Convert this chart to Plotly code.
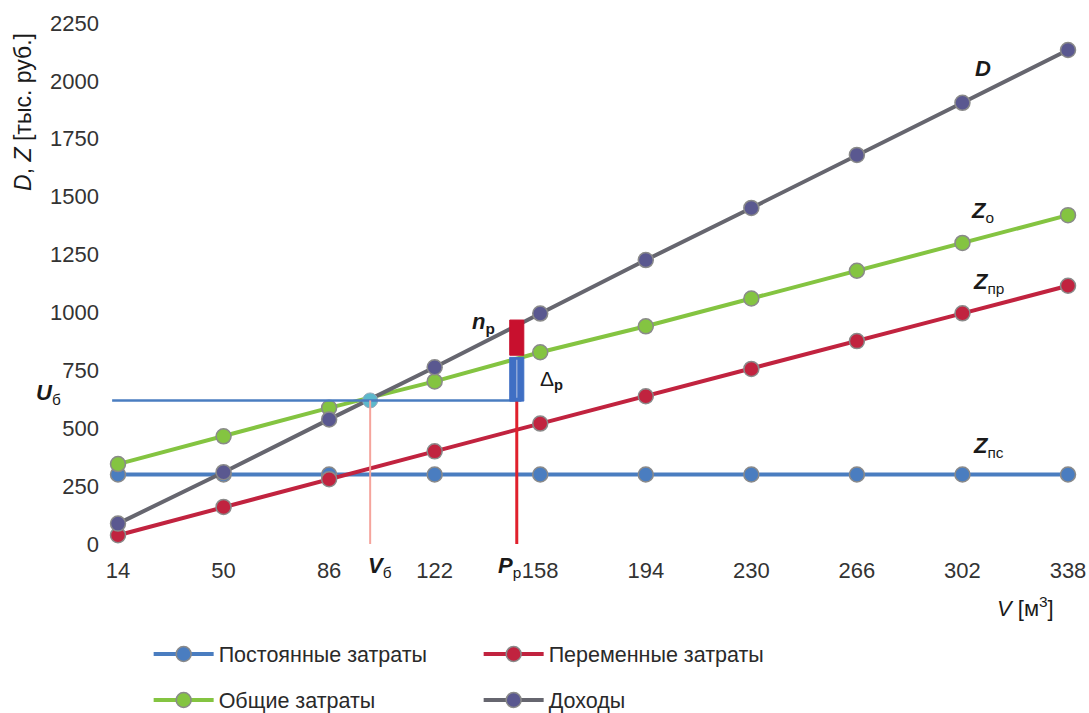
import plotly.graph_objects as go

# ---- data ----
volume = [14, 50, 86, 122, 158, 194, 230, 266, 302, 338]
fixed_costs = [300, 300, 300, 300, 300, 300, 300, 300, 300, 300]
variable_costs = [38, 160, 280, 400, 520, 638, 756, 876, 996, 1115]
total_costs = [345, 465, 588, 702, 828, 940, 1060, 1180, 1300, 1420]
income = [88, 310, 538, 763, 995, 1226, 1451, 1680, 1905, 2133]

series_names = ["Постоянные затраты", "Переменные затраты", "Общие затраты", "Доходы"]
y_ticks = [0, 250, 500, 750, 1000, 1250, 1500, 1750, 2000, 2250]

# break-even point and planned volume
V_b = 100          # break-even volume
U_b = 620          # break-even revenue
P_p = 150          # planned volume
profit_range = [815, 967]     # n_p bar
margin_range = [617, 806]     # Δ_p bar

FONT = "Liberation Sans, Arial, sans-serif"
C_BLUE = "#4a7dc0"
C_RED = "#c1233f"
C_GREEN = "#84c441"
C_DARK = "#66666f"
C_DARK_M = "#5a5890"
C_EDGE = "#8a8a8a"

fig = go.Figure()

def add_series(y, name, line_color, marker_color, legend):
    fig.add_trace(go.Scatter(
        x=volume, y=y, name=name, mode="lines+markers",
        line=dict(color=line_color, width=4),
        marker=dict(size=15, color=marker_color, line=dict(color=C_EDGE, width=1.5)),
        legend=legend,
    ))

add_series(fixed_costs, series_names[0], C_BLUE, C_BLUE, "legend")
add_series(variable_costs, series_names[1], C_RED, C_RED, "legend")
add_series(total_costs, series_names[2], C_GREEN, C_GREEN, "legend2")
add_series(income, series_names[3], C_DARK, C_DARK_M, "legend2")

# reference lines
shapes = [
    dict(type="line", xref="x", yref="y", x0=12, x1=P_p + 1.6, y0=U_b, y1=U_b,
         line=dict(color=C_BLUE, width=2.5)),
    dict(type="line", xref="x", yref="y", x0=V_b, x1=V_b, y0=0, y1=U_b,
         line=dict(color="#f5a49c", width=2)),
    dict(type="line", xref="x", yref="y", x0=P_p, x1=P_p, y0=0, y1=U_b,
         line=dict(color="#e0202c", width=3)),
    dict(type="rect", xref="x", yref="y", x0=P_p - 2.4, x1=P_p + 2.4,
         y0=margin_range[0], y1=margin_range[1],
         fillcolor="#3f6fc4", line=dict(color="#3f6fc4", width=1)),
    dict(type="line", xref="x", yref="y", x0=P_p, x1=P_p,
         y0=margin_range[0] + 15, y1=margin_range[1] - 10,
         line=dict(color="#8fa8d8", width=1.5)),
    dict(type="rect", xref="x", yref="y", x0=P_p - 2.4, x1=P_p + 2.4,
         y0=profit_range[0], y1=profit_range[1],
         fillcolor="#c8102e", line=dict(color="#c8102e", width=1)),
]
fig.update_layout(shapes=shapes)

# break-even marker
fig.add_trace(go.Scatter(
    x=[V_b], y=[U_b], mode="markers", showlegend=False,
    marker=dict(size=15, color="#5cb8cc", line=dict(color="#9ab", width=1)),
))

ann = []
def label(text, x, y, size=22, xref="x", yref="y", **kw):
    ann.append(dict(text=text, x=x, y=y, xref=xref, yref=yref, showarrow=False,
                    xanchor="center", yanchor="middle",
                    font=dict(family=FONT, size=size, color="#1a1a1a"), **kw))

label("<b><i>D</i></b>", 309, 2055)
label("<b><i>Z</i></b><sub>о</sub>", 309, 1435)
label("<b><i>Z</i></b><sub>пр</sub>", 311, 1127)
label("<b><i>Z</i></b><sub>пс</sub>", 311, 419)
label("<b><i>n</i><sub>р</sub></b>", 138.5, 955)
label("Δ<b><sub>р</sub></b>", 162, 708, size=21)
label("<b><i>U</i></b><sub>б</sub>", -0.053, 648, xref="paper")
label("<b><i>V</i></b><sub>б</sub>", 103.4, -0.022, yref="paper")
label("<b><i>P</i></b><sub>р</sub>", 147.5, -0.022, yref="paper")
# axis titles
label("<i>D</i>, <i>Z</i> [тыс. руб.]", -0.0786, 0.813, size=23, xref="paper", yref="paper",
      textangle=-90)
label("<i>V</i> [м<sup>3</sup>]", 0.944, -0.095, size=22, xref="paper", yref="paper")
fig.update_layout(annotations=ann)

legend_common = dict(orientation="h", xanchor="left", yanchor="middle",
                     xref="container", yref="container", x=0.1365,
                     entrywidth=255, entrywidthmode="pixels", itemwidth=60,
                     font=dict(family=FONT, size=21.5, color="#2a2a2a"),
                     bgcolor="rgba(0,0,0,0)", traceorder="normal")

fig.update_layout(
    width=1089, height=713,
    margin=dict(l=100, r=9, t=10, b=158, autoexpand=False),
    paper_bgcolor="white", plot_bgcolor="white",
    font=dict(family=FONT, size=22, color="#333333"),
    xaxis=dict(range=[7.86, 342.09], tickmode="array", tickvals=volume,
               ticktext=[str(v) for v in volume], showgrid=False, zeroline=False,
               showline=False, automargin=False,
               tickfont=dict(size=22, color="#333333")),
    yaxis=dict(range=[-47.5, 2305.7], tickmode="array", tickvals=y_ticks,
               showgrid=False, zeroline=False, showline=False, automargin=False,
               tickfont=dict(size=22, color="#333333")),
    legend=dict(legend_common, y=1 - 654 / 713),
    legend2=dict(legend_common, y=1 - 700 / 713),
    showlegend=True,
)

fig.write_html("out.html",
               config={"displayModeBar": False},
               post_script="document.body.style.margin='0px';"
                           "document.body.style.overflow='hidden';")
